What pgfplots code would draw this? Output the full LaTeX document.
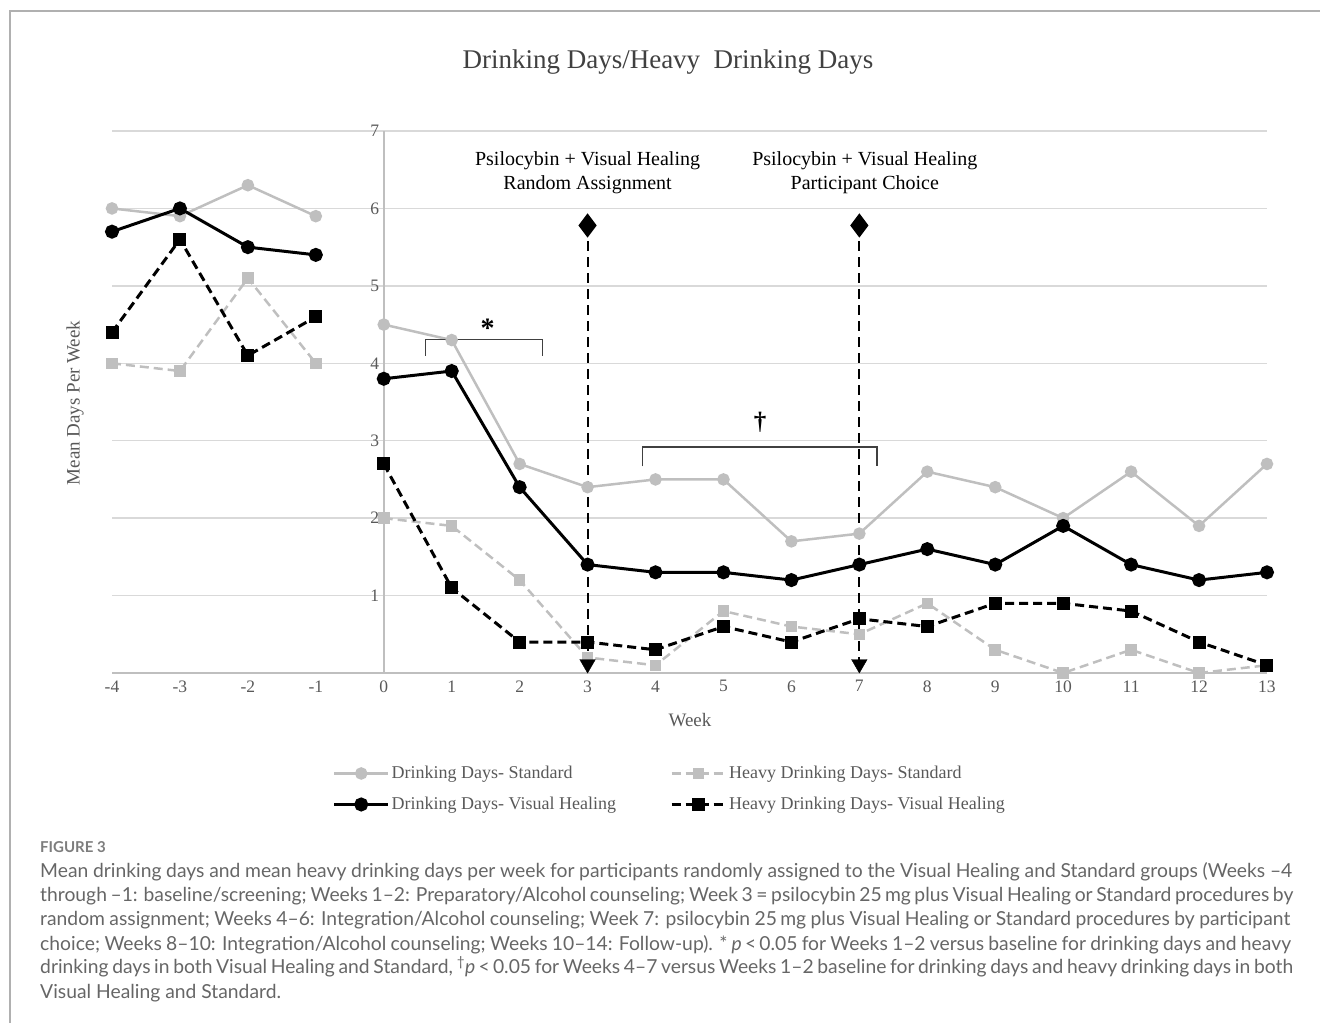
\documentclass[border=0pt]{standalone}
\usepackage{pgfplots}
\pgfplotsset{compat=1.18}
\usepackage{pgfplotstable}
\usepackage{fontspec}
\setmainfont{Liberation Serif}
\newfontfamily\capfont{Lato}
\definecolor{lg}{HTML}{BFBFBF}
\definecolor{gridc}{HTML}{D9D9D9}
\definecolor{tickc}{HTML}{595959}
\definecolor{titlec}{HTML}{404040}
\definecolor{capc}{HTML}{666666}
\definecolor{framec}{HTML}{B0B0B0}

\pgfplotstableread{
w dds hds ddv hdv
-4 6.0 4.0 5.7 4.4
-3 5.9 3.9 6.0 5.6
-2 6.3 5.1 5.5 4.1
-1 5.9 4.0 5.4 4.6
-0.5 nan nan nan nan
0 4.5 2.0 3.8 2.7
1 4.3 1.9 3.9 1.1
2 2.7 1.2 2.4 0.4
3 2.4 0.2 1.4 0.4
4 2.5 0.1 1.3 0.3
5 2.5 0.8 1.3 0.6
6 1.7 0.6 1.2 0.4
7 1.8 0.5 1.4 0.7
8 2.6 0.9 1.6 0.6
9 2.4 0.3 1.4 0.9
10 2.0 0.0 1.9 0.9
11 2.6 0.3 1.4 0.8
12 1.9 0.0 1.2 0.4
13 2.7 0.1 1.3 0.1
}\data

\begin{document}
\begin{tikzpicture}[x=1pt,y=1pt]
\useasboundingbox (0,0) rectangle (1320,1023);
\draw[framec, line width=2pt] (10,0) -- (10,1012) -- (1320,1012);

\begin{axis}[
  at={(112pt,350pt)}, anchor=south west,
  scale only axis, width=1155pt, height=542pt,
  xmin=-4, xmax=13, ymin=0, ymax=7,
  axis x line=bottom, axis y line=center,
  axis line style={-, draw=lg, line width=1.5pt},
  ymajorgrids, grid style={draw=gridc, line width=1.5pt},
  xtick={-4,...,13}, ytick={0,...,7},
  major tick length=0pt,
  tick label style={font=\fontsize{17.5}{17.5}\selectfont, color=tickc},
  xticklabel style={yshift=-4pt},
  yticklabel style={xshift=-1pt},
  /pgf/number format/assume math mode=true,
  clip=false, unbounded coords=jump,
  legend columns=2, legend cell align=left,
  legend style={at={(0.483,-0.214)}, anchor=center, draw=none, fill=none,
    font=\fontsize{18}{18}\selectfont, text=tickc,
    /tikz/every even column/.append style={column sep=52pt},
    row sep=13pt, inner sep=0pt},
  legend image code/.code={\draw[mark repeat=2,mark phase=2,#1] plot coordinates {(0pt,0pt) (27pt,0pt) (54pt,0pt)};},
]
\addplot[lg, line width=2.5pt, mark=*, mark size=5pt, mark options={solid, fill=lg, draw=lg}] table[x=w, y=dds] {\data};
\addplot[lg, line width=2.5pt, dash pattern=on 9pt off 5pt, mark=square*, mark size=4.5pt, mark options={solid, fill=lg, draw=lg}] table[x=w, y=hds] {\data};
\addplot[black, line width=3pt, mark=*, mark size=5.5pt, mark options={solid, fill=black}] table[x=w, y=ddv] {\data};
\addplot[black, line width=3pt, dash pattern=on 9pt off 5pt, mark=square*, mark size=5pt, mark options={solid, fill=black, draw=black}] table[x=w, y=hdv] {\data};
\legend{Drinking Days- Standard, Heavy Drinking Days- Standard, Drinking Days- Visual Healing, Heavy Drinking Days- Visual Healing}

% intervention lines (diamond at top)
\addplot[forget plot, black, line width=2pt, dash pattern=on 10pt off 6pt, mark=diamond*, mark size=10.5pt, mark indices={1}, mark options={solid, fill=black}] coordinates {(3,5.78) (3,0.1)};
\addplot[forget plot, black, line width=2pt, dash pattern=on 10pt off 6pt, mark=diamond*, mark size=10.5pt, mark indices={1}, mark options={solid, fill=black}] coordinates {(7,5.78) (7,0.1)};
% arrow heads at the bottom
\addplot[forget plot, only marks, mark=triangle*, mark size=9pt, mark options={rotate=180, fill=black, draw=black}] coordinates {(3,0.116) (7,0.116)};

% brackets
\addplot[forget plot, titlec, line width=1.2pt] coordinates {(0.61,4.1) (0.61,4.31) (2.34,4.31) (2.34,4.1)};
\addplot[forget plot, titlec, line width=1.2pt] coordinates {(3.81,2.67) (3.81,2.92) (7.26,2.92) (7.26,2.67)};

\node[font=\fontsize{28}{28}\selectfont\bfseries] at (axis cs:1.53,4.45) {*};
\node[font=\fontsize{25}{25}\selectfont\bfseries] at (axis cs:5.54,3.24) {†};

\node[align=center, font=\fontsize{20}{24}\selectfont] at (axis cs:3,6.46) {Psilocybin + Visual Healing\\Random Assignment};
\node[align=center, font=\fontsize{20}{24}\selectfont] at (axis cs:7.08,6.46) {Psilocybin + Visual Healing\\Participant Choice};
\end{axis}

\node[font=\fontsize{27}{30}\selectfont, text=titlec] at (668,961) {Drinking Days/Heavy\ \ Drinking Days};
\node[rotate=90, font=\fontsize{19}{20}\selectfont, text=tickc] at (75,620) {Mean Days Per Week};
\node[font=\fontsize{19}{20}\selectfont, text=tickc] at (690,303) {Week};

\node[anchor=base west, inner sep=0pt, font=\capfont\bfseries\fontsize{15}{15}\selectfont, text=capc!85] at (40,170) {FIGURE 3};
\begin{scope}[every node/.style={anchor=base west, inner sep=0pt, font=\capfont\fontsize{19.3}{19.3}\selectfont, text=capc}]
\node at (40,145) {\makebox[1252pt][s]{Mean drinking days and mean heavy drinking days per week for participants randomly assigned to the Visual Healing and Standard groups (Weeks –4}};
\node at (40,121) {\makebox[1253pt][s]{through –1: baseline/screening; Weeks 1–2: Preparatory/Alcohol counseling; Week 3 = psilocybin 25\,mg plus Visual Healing or Standard procedures by}};
\node at (40,97) {\makebox[1250pt][s]{random assignment; Weeks 4–6: Integration/Alcohol counseling; Week 7: psilocybin 25\,mg plus Visual Healing or Standard procedures by participant}};
\node at (40,73) {\makebox[1251pt][s]{choice; Weeks 8–10: Integration/Alcohol counseling; Weeks 10–14: Follow-up). * \textit{p}\,<\,0.05 for Weeks 1–2 versus baseline for drinking days and heavy}};
\node at (40,49) {\makebox[1253pt][s]{drinking days in both Visual Healing and Standard, \textsuperscript{†}\textit{p}\,<\,0.05 for Weeks 4–7 versus Weeks 1–2 baseline for drinking days and heavy drinking days in both}};
\node at (40,25) {Visual Healing and Standard.};
\end{scope}
\end{tikzpicture}
\end{document}
